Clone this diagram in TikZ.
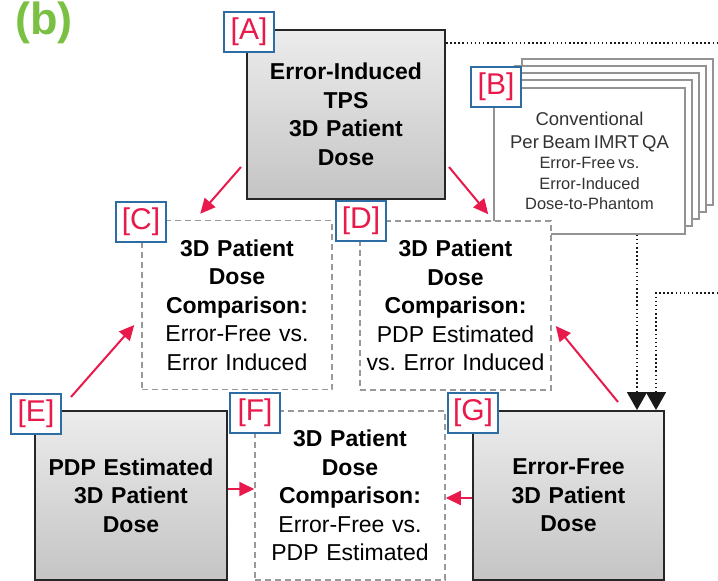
\documentclass[tikz,border=0pt]{standalone}
\usepackage{fontspec}
\setmainfont{Liberation Sans}
\usetikzlibrary{arrows.meta}
\definecolor{labred}{HTML}{E8194B}
\definecolor{labblue}{HTML}{2E6DA4}
\definecolor{titlegreen}{HTML}{7AC143}
\tikzset{
  solidbox/.style={draw=black!85, line width=2pt, top color=gray!15, bottom color=gray!46,
     minimum width=#1, minimum height=169, inner sep=0pt, text width=188, align=center,
     font=\fontsize{23}{28.5}\selectfont\bfseries\frenchspacing},
  dashbox/.style={draw=gray!80, line width=1.5pt, dash pattern=on 6pt off 4pt, fill=white,
     minimum width=#1, minimum height=169, inner sep=0pt, text width=186, align=center,
     font=\fontsize{23}{28.5}\selectfont\frenchspacing},
  sheet/.style={draw=gray!85, line width=1.5pt, fill=white},
  lab/.style={draw=labblue, line width=1.2pt, fill=white, inner sep=0pt,
     minimum width=50, minimum height=40, text=labred, font=\fontsize{30}{30}\selectfont},
  ra/.style={draw=labred, line width=2pt, -{Triangle[length=15pt,width=14pt]}},
  dotline/.style={line width=1.8pt, dash pattern=on 1.5pt off 2.6pt, black!90,
     -{Triangle[length=18pt,width=20pt]}},
  dotplain/.style={line width=1.8pt, dash pattern=on 1.5pt off 2.6pt, black!90},
}
\begin{document}
\begin{tikzpicture}[x=1pt,y=-1pt]
\useasboundingbox (0,0) rectangle (718,581);
% title
\node[anchor=base, text=titlegreen, font=\fontsize{45}{45}\selectfont\bfseries] (title) at (44,34) {(b)};
% B stack
\foreach \i in {4,3,2,1} {
  \draw[sheet] (494+7*\i,87-7*\i) rectangle (685+7*\i,233-7*\i);
}
\node[sheet, minimum width=191, minimum height=146, inner sep=0pt, text width=185, align=center, text=black!80, font=\frenchspacing] (B) at (589.5,161)
 {\fontsize{18.5}{23}\selectfont Conventional\\Per Beam IMRT QA\par
  \fontsize{16.4}{20.3}\selectfont Error-Free vs.\\Error-Induced\\Dose-to-Phantom\par};
% main boxes
\node[solidbox=198] (A) at (346,114.5) {Error-Induced\\TPS\\3D Patient\\Dose};
\node[dashbox=190] (C) at (237,305) {\textbf{3D Patient\\Dose\\Comparison:}\\Error-Free vs.\\Error Induced};
\node[dashbox=191] (D) at (455.5,305.5) {\textbf{3D Patient\\Dose\\Comparison:}\\PDP Estimated\\vs. Error Induced};
\node[solidbox=192] (E) at (131,495.5) {PDP Estimated\\3D Patient\\Dose};
\node[dashbox=190] (F) at (350,495.5) {\textbf{3D Patient\\Dose\\Comparison:}\\Error-Free vs.\\PDP Estimated};
\node[solidbox=191] (G) at (568.5,495.5) {Error-Free\\3D Patient\\Dose};
% dotted connectors
\coordinate (r1) at (718,43);
\coordinate (r2) at (718,293);
\coordinate (bx) at (637,0);
\coordinate (cx) at (656,0);
\draw[dotplain] (r1 -| A.east) -- (r1);
\draw[dotline] (B.south -| bx) -- (G.north -| bx);
\draw[dotline] (r2) -| (G.north -| cx);
% red arrows
\draw[ra] ([xshift=-5pt,yshift=33pt]A.south west) -- ([xshift=59pt,yshift=6pt]C.north west);
\draw[ra] ([xshift=3pt,yshift=33pt]A.south east) -- ([xshift=129pt,yshift=6pt]D.north west);
\draw[ra] ([xshift=37pt,yshift=13pt]E.north west) -- ([xshift=-7pt,yshift=-20pt]C.west);
\draw[ra] ([xshift=49.5pt,yshift=8pt]G.north) -- ([xshift=4pt,yshift=-20.5pt]D.east);
\draw[ra] ([yshift=6.5pt]E.east) -- ([yshift=6.5pt]F.west);
\draw[ra] ([yshift=-2.5pt]G.west) -- ([yshift=-2.5pt]F.east);
% labels
\node[lab] (LA) at (249,32) {[A]};
\node[lab] (LB) at (496,87) {[B]};
\node[lab] (LC) at (141,222) {[C]};
\node[lab] (LD) at (361,221) {[D]};
\node[lab] (LE) at (36,414) {[E]};
\node[lab] (LF) at (255,413) {[F]};
\node[lab] (LG) at (473,413) {[G]};
\end{tikzpicture}
\end{document}
